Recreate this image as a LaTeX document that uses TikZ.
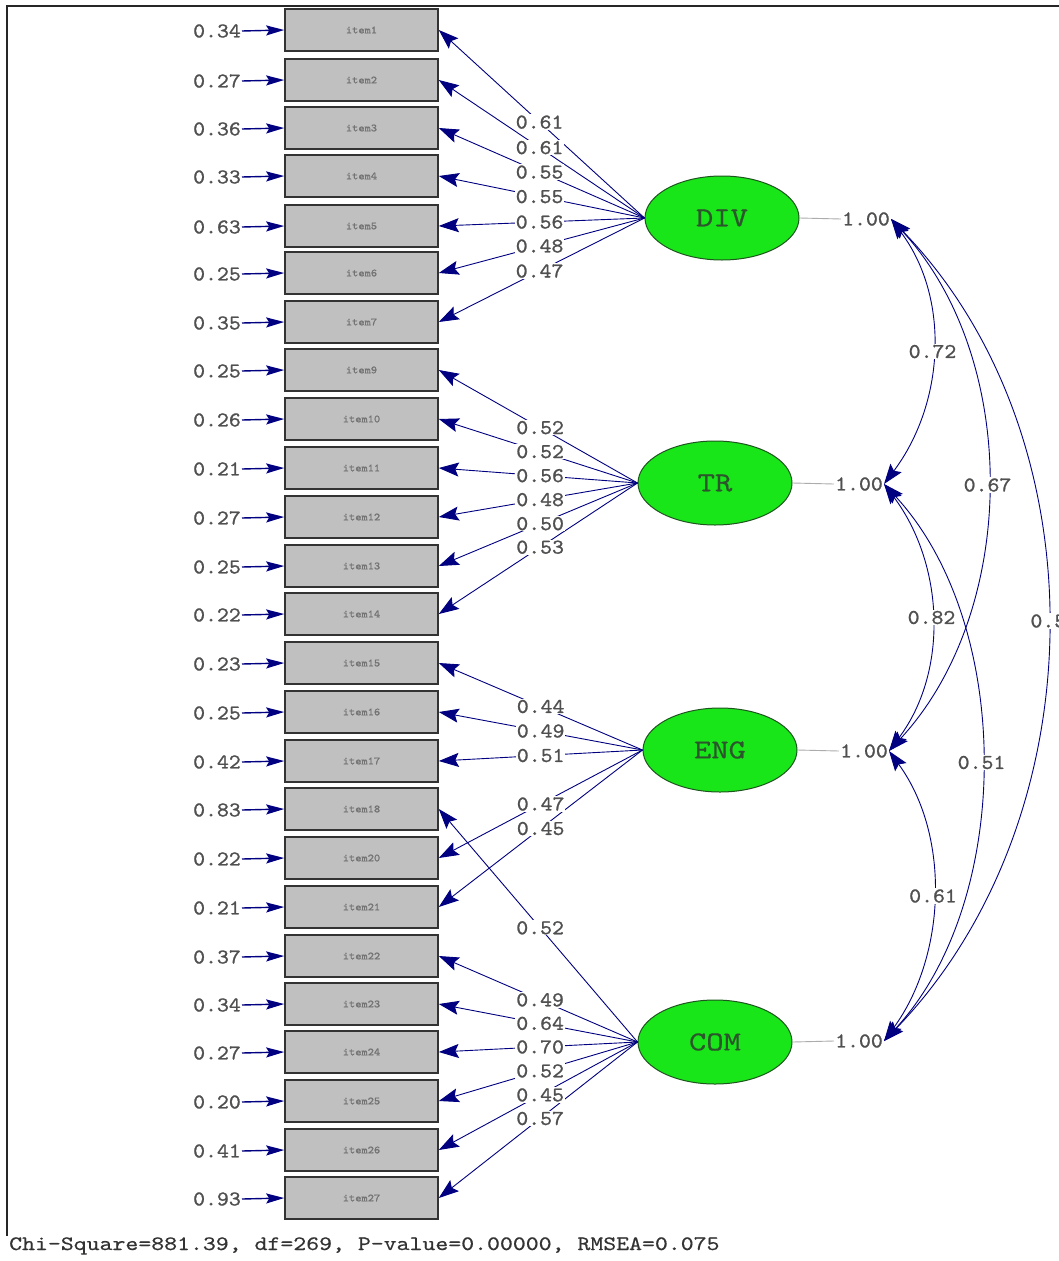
\documentclass[tikz,border=0pt]{standalone}
\usepackage{fontspec}
\usetikzlibrary{arrows.meta,shapes.geometric}
% Courier-like typewriter faces built from Latin Modern Mono
\newfontfamily\numfont{lmmono10-regular}[Extension=.otf,FakeStretch=1.08,FakeBold=1]
\newfontfamily\widefont{lmmono10-regular}[Extension=.otf,FakeStretch=1.2,FakeBold=0.5]

\definecolor{pathnavy}{RGB}{0,0,128}
\definecolor{boxgray}{RGB}{192,192,192}
\definecolor{latgreen}{RGB}{24,230,24}
\definecolor{latedge}{RGB}{30,85,30}
\definecolor{latname}{RGB}{45,85,45}
\definecolor{txtgray}{RGB}{80,80,80}

\tikzset{
  headtip/.tip={Stealth[length=20pt,width=14pt,inset=3.5pt]},
  errtip/.tip={Stealth[length=18pt,width=10pt,inset=3pt]},
  itembox/.style={draw=black!80, line width=1.6pt, fill=boxgray,
    minimum width=153pt, minimum height=42pt, inner sep=0pt,
    font=\numfont\fontsize{11}{11}\selectfont, text=black!55},
  latent/.style={ellipse, draw=latedge, line width=1pt, fill=latgreen,
    minimum width=154pt, minimum height=84pt, inner sep=0pt,
    font=\widefont\fontsize{27.5}{27.5}\selectfont, text=latname},
  num/.style={font=\numfont\fontsize{21}{21}\selectfont, text=txtgray, inner sep=1pt},
  numbg/.style={num, fill=white},
  loading/.style={draw=pathnavy, line width=0.9pt, -headtip},
  errpath/.style={draw=pathnavy, line width=1.4pt, -errtip},
  covpath/.style={draw=pathnavy, line width=0.9pt, headtip-headtip},
  varline/.style={draw=gray!65, line width=0.9pt},
  frame/.style={draw=black!85, line width=2.4pt}
}

\begin{document}
\begin{tikzpicture}[x=1pt,y=-1pt]
\path[use as bounding box, clip] (0,0) rectangle (1059,1261);
\fill[white] (0,0) rectangle (1059,1261);

% window frame
\draw[frame] (7,1236) -- (7,6) -- (1059,6);

% observed indicators with their error variances
\foreach \n/\y/\e in {1/30/0.34, 2/80/0.27, 3/128/0.36, 4/176/0.33, 5/226/0.63,
    6/273/0.25, 7/322/0.35, 9/370/0.25, 10/419/0.26, 11/468/0.21, 12/517/0.27,
    13/566/0.25, 14/614/0.22, 15/663/0.23, 16/712/0.25, 17/761/0.42, 18/809/0.83,
    20/858/0.22, 21/907/0.21, 22/956/0.37, 23/1004/0.34, 24/1052/0.27,
    25/1101/0.20, 26/1150/0.41, 27/1198/0.93}{
  \node[itembox] (i\n) at (361.5,\y) {item\n};
  \node[num, anchor=east] (e\n) at (242,\y+1) {\e};
  \draw[errpath] (e\n.east) -- (i\n.west);
}

% latent factors
\node[latent] (DIV) at (722,218) {DIV};
\node[latent] (TR)  at (715,483) {TR};
\node[latent] (ENG) at (720,750) {ENG};
\node[latent] (COM) at (715,1042) {COM};

% factor variances
\node[num] (vDIV) at (866,219) {1.00};
\node[num] (vTR)  at (859,484) {1.00};
\node[num] (vENG) at (864,751) {1.00};
\node[num] (vCOM) at (859,1041) {1.00};
\foreach \f in {DIV,TR,ENG,COM}{
  \draw[varline] (\f.east) -- (v\f.west);
}

% factor loadings
\foreach \n in {1,...,7}{ \draw[loading] (DIV.west) -- (i\n.east); }
\foreach \n in {9,...,14}{ \draw[loading] (TR.west) -- (i\n.east); }
\foreach \n in {15,16,17,20,21}{ \draw[loading] (ENG.west) -- (i\n.east); }
\foreach \n in {18,22,23,24,25,26,27}{ \draw[loading] (COM.west) -- (i\n.east); }

% factor covariances
\draw[covpath] (vDIV.east) .. controls +(60,80) and +(60,-80) .. (vTR.east)
  coordinate[pos=0.5] (cDT);
\draw[covpath] (vDIV.east) .. controls +(130,140) and +(130,-140) .. (vENG.east)
  coordinate[pos=0.5] (cDE);
\draw[covpath] (vDIV.east) .. controls +(213,220) and +(213,-220) .. (vCOM.east)
  coordinate[pos=0.5] (cDC);
\draw[covpath] (vTR.east) .. controls +(60,80) and +(60,-80) .. (vENG.east)
  coordinate[pos=0.5] (cTE);
\draw[covpath] (vTR.east) .. controls +(130,140) and +(130,-140) .. (vCOM.east)
  coordinate[pos=0.5] (cTC);
\draw[covpath] (vENG.east) .. controls +(62,85) and +(62,-85) .. (vCOM.east)
  coordinate[pos=0.5] (cEC);

% loading values
\foreach \n/\v in {1/0.61, 2/0.61, 3/0.55, 4/0.55, 5/0.56, 6/0.48, 7/0.47}{
  \path (DIV.west) -- (i\n.east) node[numbg, pos=0.51] {\v};
}
\foreach \n/\v in {9/0.52, 10/0.52, 11/0.56, 12/0.48, 13/0.50, 14/0.53}{
  \path (TR.west) -- (i\n.east) node[numbg, pos=0.49] {\v};
}
\foreach \n/\v in {15/0.44, 16/0.49, 17/0.51, 20/0.47, 21/0.45}{
  \path (ENG.west) -- (i\n.east) node[numbg, pos=0.5] {\v};
}
\foreach \n/\v in {18/0.52, 22/0.49, 23/0.64, 24/0.70, 25/0.52, 26/0.45, 27/0.57}{
  \path (COM.west) -- (i\n.east) node[numbg, pos=0.49] {\v};
}

% covariance values
\node[numbg] (kDT) at (cDT) {0.72};
\node[numbg] (kDE) at (cDE) {0.67};
\node[numbg, anchor=west] (kDC) at ([xshift=-18pt,yshift=9pt]cDC) {0.5};
\node[numbg] (kTE) at (cTE) {0.82};
\node[numbg] (kTC) at (cTC) {0.51};
\node[numbg] (kEC) at (cEC) {0.61};

% fit statistics
\node[anchor=base west, inner sep=0pt, text=black!80,
  font=\widefont\fontsize{20.5}{20.5}\selectfont] (fit) at (9,1250)
  {Chi-Square=881.39, df=269, P-value=0.00000, RMSEA=0.075};
\end{tikzpicture}
\end{document}
